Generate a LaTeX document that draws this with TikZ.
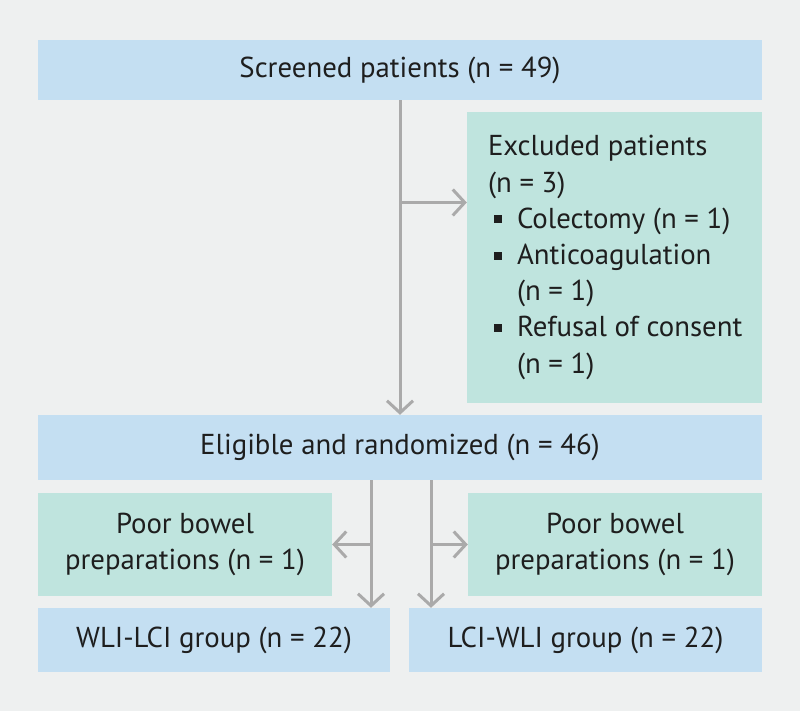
\documentclass[tikz,border=0pt]{standalone}
\usepackage{fontspec}
\setmainfont{PT Sans}
\usetikzlibrary{arrows.meta,positioning}
\definecolor{bgGray}{RGB}{238,240,240}
\definecolor{boxBlue}{RGB}{196,223,242}
\definecolor{boxTeal}{RGB}{191,228,222}
\definecolor{lineGray}{RGB}{170,170,170}
\definecolor{txtDark}{RGB}{30,30,30}
\newcommand{\blt}{\hspace*{6pt}\rule[5pt]{8pt}{8pt}\hspace*{15pt}}
\newcommand{\ind}{\hspace*{29pt}}

\begin{document}
\begin{tikzpicture}[x=1pt,y=-1pt,
  font=\fontsize{28.8}{36.2}\selectfont,
  bluebox/.style={fill=boxBlue,inner sep=0pt,text=txtDark},
  tealbox/.style={fill=boxTeal,inner sep=0pt,text=txtDark},
  arr/.style={draw=lineGray,line width=3pt,
    -{Straight Barb[length=12pt,width=26pt,line width=3pt]}}]
%%Background
\fill[bgGray] (0,0) rectangle (800,711);
\useasboundingbox (0,0) rectangle (800,711);
%%Boxes
\node[bluebox,minimum width=724pt,minimum height=60pt] (screened) at (400,70) {Screened patients (n = 49)};
\node[tealbox,minimum width=295pt,minimum height=291pt] (excl) at (614.5,257.5) {};
\node[anchor=west,inner sep=0pt,align=left,text=txtDark] (exclText) at ([xshift=21pt]excl.west)
  {Excluded patients\\(n = 3)\\\blt Colectomy (n = 1)\\\blt Anticoagulation\\\ind(n = 1)\\\blt Refusal of consent\\\ind(n = 1)};
\node[bluebox,minimum width=724pt,minimum height=65pt] (elig) at (400,447.5) {Eligible and randomized (n = 46)};
\node[tealbox,minimum width=294pt,minimum height=103pt,align=center] (poorL) at (185,544.5) {Poor bowel\\preparations (n = 1)};
\node[tealbox,minimum width=294pt,minimum height=103pt,align=center] (poorR) at (615,544.5) {Poor bowel\\preparations (n = 1)};
\node[bluebox,minimum width=352pt,minimum height=64pt] (wli) at (214,640) {WLI-LCI group (n = 22)};
\node[bluebox,minimum width=353pt,minimum height=64pt] (lci) at (585.5,640) {LCI-WLI group (n = 22)};
%%Arrows
\draw[arr] (screened.south) -- (elig.north);
\coordinate (brTop) at ([yshift=55pt]excl.west -| screened.south);
\draw[arr] (brTop) -- (brTop -| excl.west);
\coordinate (downL) at ([xshift=-29pt]elig.south);
\coordinate (downR) at ([xshift=31pt]elig.south);
\draw[arr] (downL) -- (downL |- wli.north);
\draw[arr] (downR) -- (downR |- lci.north);
\coordinate (brL) at (downL |- poorL.east);
\coordinate (brR) at (downR |- poorR.west);
\draw[arr] (brL) -- (poorL.east);
\draw[arr] (brR) -- (poorR.west);
\end{tikzpicture}
\end{document}
